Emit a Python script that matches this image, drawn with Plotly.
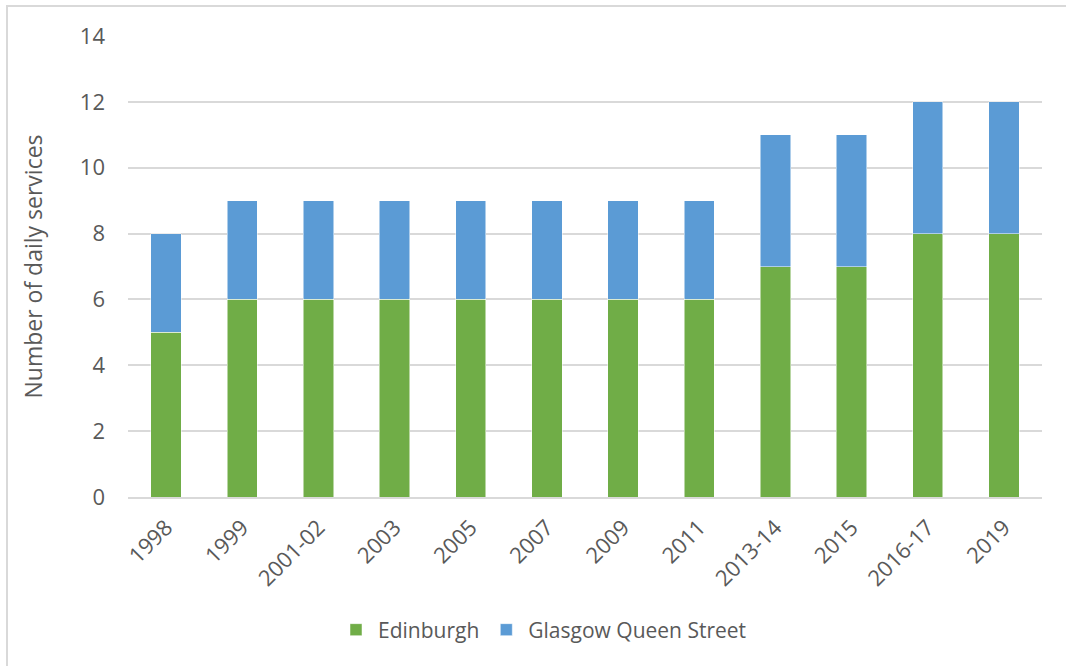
import plotly.graph_objects as go

categories = ["1998", "1999", "2001-02", "2003", "2005", "2007", "2009", "2011",
              "2013-14", "2015", "2016-17", "2019"]
edinburgh = [5, 6, 6, 6, 6, 6, 6, 6, 7, 7, 8, 8]
glasgow = [3, 3, 3, 3, 3, 3, 3, 3, 4, 4, 4, 4]
y_ticks = [0, 2, 4, 6, 8, 10, 12, 14]

W, H = 1066, 666
L, R, T, B = 128, 24, 36, 169
pw, ph = W - L - R, H - T - B

def px(x):
    return (x - L) / pw

def py(y):
    return (H - B - y) / ph

font = "Open Sans, Liberation Sans, sans-serif"
txt = "#595959"

fig = go.Figure()
fig.add_trace(go.Bar(x=categories, y=edinburgh, name="Edinburgh",
                     marker=dict(color="#70AD47", line=dict(color="#ffffff", width=0.5))))
fig.add_trace(go.Bar(x=categories, y=glasgow, name="Glasgow Queen Street",
                     marker=dict(color="#5B9BD5", line=dict(color="#ffffff", width=0.5))))

fig.update_layout(
    barmode="stack",
    bargap=0.6,
    width=W, height=H,
    margin=dict(l=L, r=R, t=T, b=B),
    paper_bgcolor="white",
    plot_bgcolor="white",
    font=dict(family=font, color=txt, size=21),
    showlegend=True,
    legend=dict(orientation="h", x=px(543), xanchor="center", y=py(630), yanchor="middle",
                font=dict(size=21, color=txt), traceorder="normal", itemwidth=34),
    xaxis=dict(tickangle=-45, showgrid=False, showline=True, linecolor="#d9d9d9",
               linewidth=2, ticks="", ticklabelstandoff=7,
               tickfont=dict(size=22, color=txt)),
    yaxis=dict(range=[0, 14], tickvals=y_ticks, showgrid=True, gridcolor="#d9d9d9",
               gridwidth=1.5, zeroline=False, showline=False, ticks="",
               ticklabelstandoff=22,
               tickfont=dict(size=22, color=txt),
               title=dict(text="Number of daily services", font=dict(size=23, color=txt),
                          standoff=30)),
    shapes=[dict(type="rect", xref="paper", yref="paper",
                 x0=px(7), x1=px(1080), y0=py(690), y1=py(6),
                 line=dict(color="#d9d9d9", width=2), fillcolor="rgba(0,0,0,0)",
                 layer="below")],
)

fig.write_html("out.html")
